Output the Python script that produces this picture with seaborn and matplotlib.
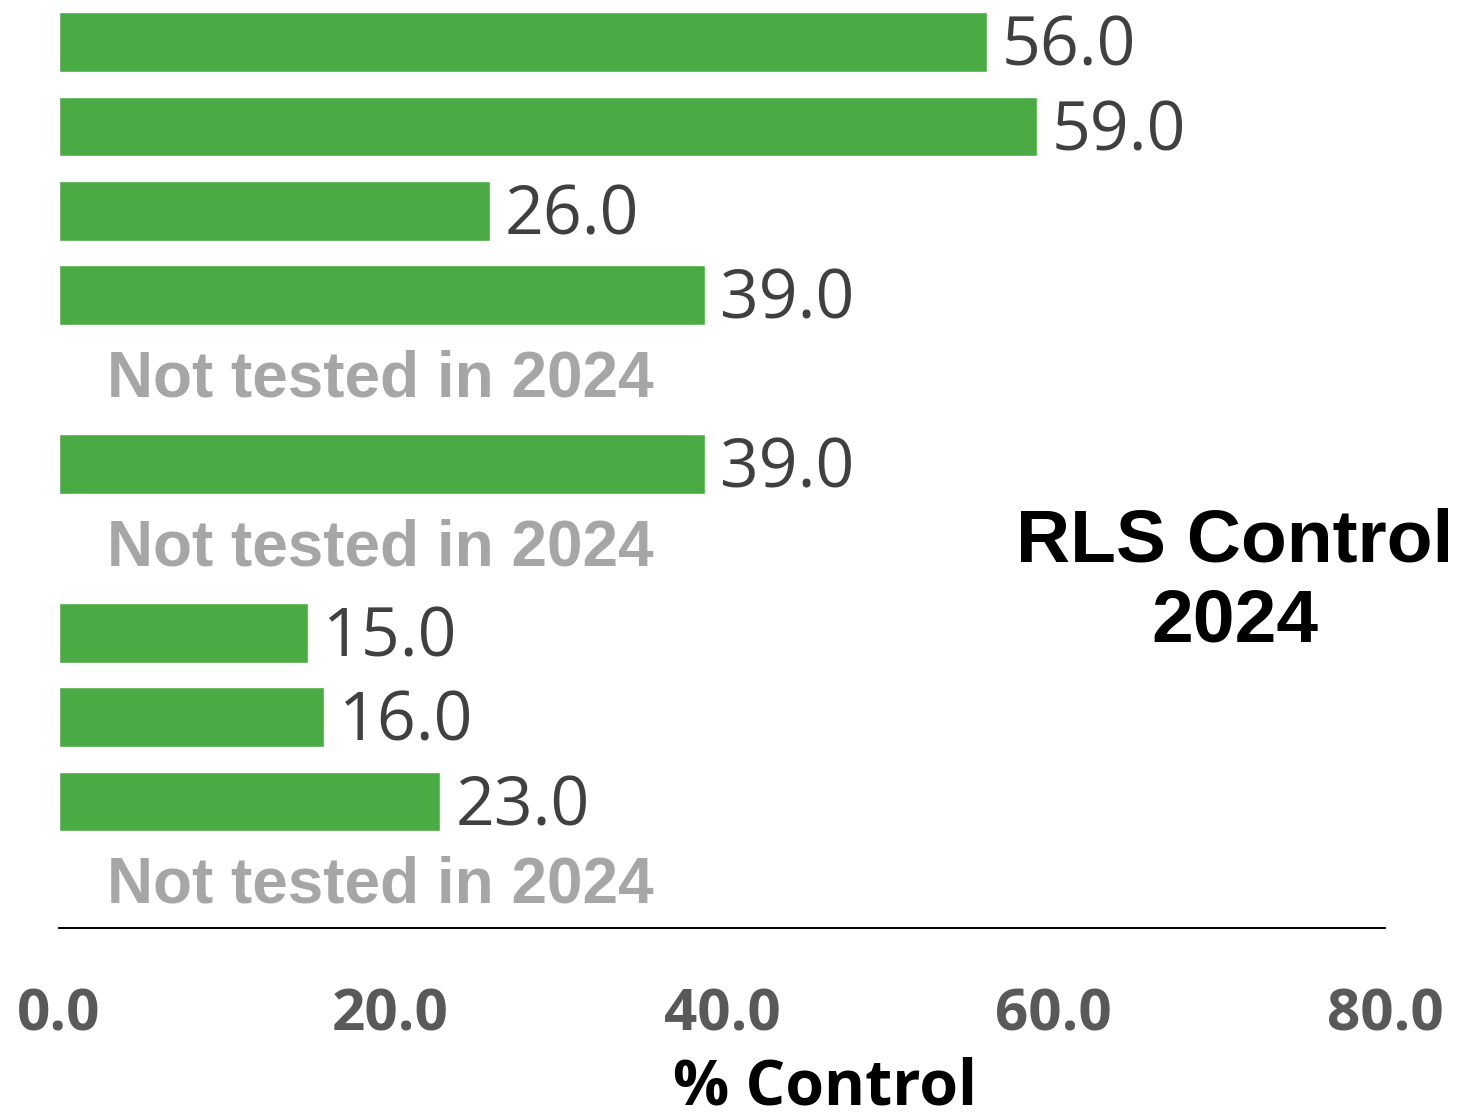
import numpy as np
import pandas as pd
import matplotlib
matplotlib.use('Agg')
import matplotlib.pyplot as plt
import seaborn as sns

# ── DATA ─────────────────────────────────────────────────────────────────────
treatments = ['T1', 'T2', 'T3', 'T4', 'T5', 'T6', 'T7', 'T8', 'T9', 'T10', 'T11']
control_pct = [56.0, 59.0, 26.0, 39.0, np.nan, 39.0, np.nan, 15.0, 16.0, 23.0, np.nan]
x_ticks = [0, 20, 40, 60, 80]
not_tested_label = 'Not tested in 2024'
panel_title = 'RLS Control\n2024'

GREEN = '#4AAA43'
DARK = '#404040'
TICK = '#595959'
LGRAY = '#A6A6A6'

sns.set_theme(style='white')
plt.rcParams['font.family'] = ['Open Sans', 'DejaVu Sans']

df = pd.DataFrame({'treatment': treatments, 'control': control_pct})

fig = plt.figure(figsize=(14.62, 11.17), dpi=100)
ax = fig.add_axes([59 / 1462, 189 / 1117, 1326 / 1462, 928 / 1117])

sns.barplot(data=df, x='control', y='treatment', order=treatments, orient='h',
            color=GREEN, saturation=1, width=0.71, ax=ax, errorbar=None)

for i, v in enumerate(control_pct):
    if np.isnan(v):
        ax.text(2.9, i, not_tested_label, ha='left', va='center', fontsize=46,
                fontweight='bold', color=LGRAY, family=['Liberation Sans', 'DejaVu Sans'])
    else:
        ax.text(v + 0.9, i + 0.07, f'{v:.1f}', ha='left', va='center', fontsize=49, color=DARK)

ax.set_xlim(0, 80)
ax.set_ylim(10.5, -0.5)
ax.set_xticks(x_ticks)
ax.set_xticklabels([f'{t:.1f}' for t in x_ticks], fontsize=42, fontweight='bold', color=TICK)
ax.tick_params(axis='x', length=0, pad=42)
ax.set_yticks([])
ax.set_ylabel('')
ax.set_xlabel('% Control', fontsize=45, fontweight='bold', color='black')
ax.xaxis.set_label_coords((825 - 59) / 1326, -0.138)

for s in ['top', 'right', 'left']:
    ax.spines[s].set_visible(False)
ax.spines['bottom'].set_color('black')
ax.spines['bottom'].set_linewidth(1.4)

ax.text(1235 / 1462, (1117 - 582) / 1117, panel_title, transform=fig.transFigure,
        ha='center', va='center', fontsize=54, fontweight='bold', color='black',
        family=['Liberation Sans', 'DejaVu Sans'], linespacing=1.2)

fig.savefig('out.png', dpi=100)
